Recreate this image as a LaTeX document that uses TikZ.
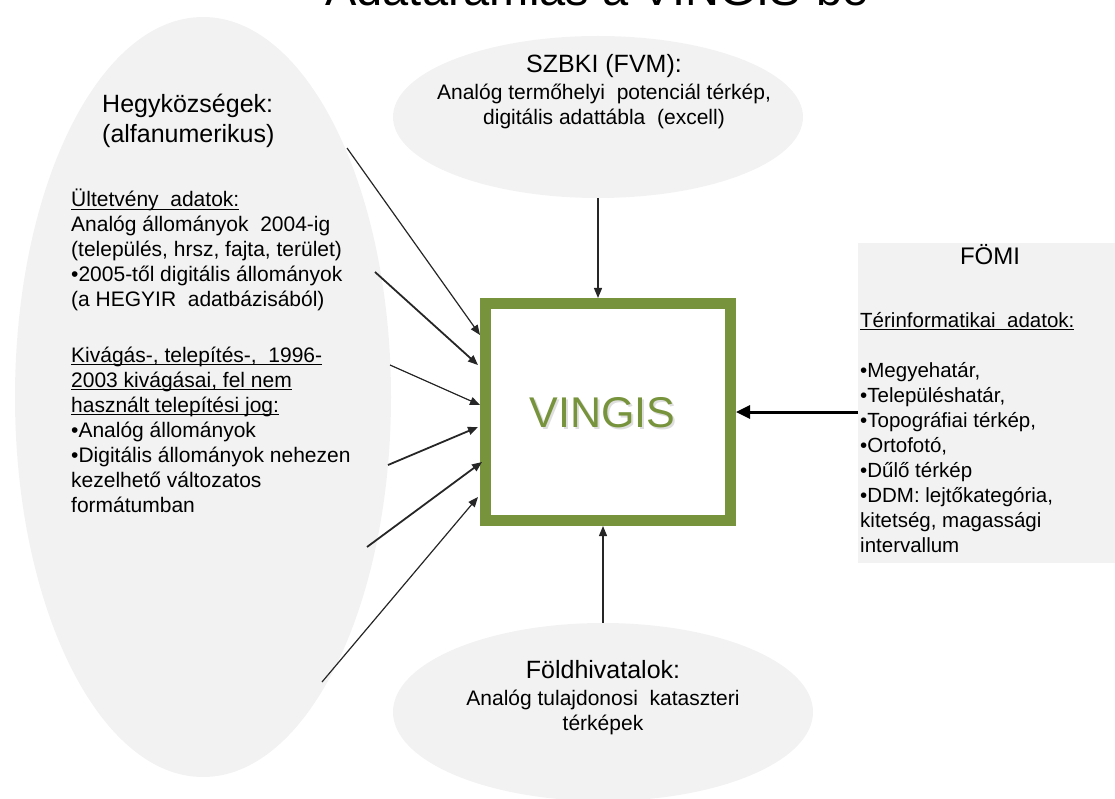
\documentclass[tikz,border=0pt]{standalone}
\usepackage{fontspec}
\setmainfont{Liberation Sans}
\usetikzlibrary{shapes.geometric,arrows.meta}
\definecolor{bgray}{HTML}{F2F2F2}
\definecolor{vgreen}{HTML}{77933C}
\newcommand\myul[1]{\setbox0\hbox{#1}\rlap{\rule[-3pt]{\wd0}{1.1pt}}\box0}
\newcommand\fsA{\fontsize{25}{30}\selectfont}
\newcommand\fsB{\fontsize{21}{25}\selectfont}
\newcommand\fsC{\fontsize{20.5}{25}\selectfont}
\begin{document}
\begin{tikzpicture}[x=1pt,y=-1pt,
  blob/.style={ellipse, fill=bgray, inner sep=0pt},
  txt/.style={inner sep=0pt, anchor=base west},
  ctxt/.style={inner sep=0pt, anchor=base},
  arr/.style={-{Triangle[length=10pt,width=8pt]}, line width=1.2pt, black!85},
  arrb/.style={arr, line width=1.8pt},
]
\useasboundingbox (0,0) rectangle (1115,799);
\clip (0,0) rectangle (1115,799);

% title (cut off at top)
\node[ctxt, font=\fontsize{47}{50}\selectfont] (title) at (597,6) {Adatáramlás a VINGIS-be};

% source shapes
\node[blob, minimum width=376pt, minimum height=760pt] (heg) at (203,397) {};
\node[blob, minimum width=410pt, minimum height=162pt] (szbki) at (598,117) {};
\node[blob, minimum width=420pt, minimum height=178pt] (foldh) at (603,712) {};
\node[fill=bgray, inner sep=0pt, minimum width=257pt, minimum height=320pt, anchor=north west] (fomi) at (858,243) {};

% VINGIS box
\node[draw=vgreen, line width=11pt, minimum width=245pt, minimum height=217pt, inner sep=0pt] (box) at (608,412) {};
\node[ctxt, text=vgreen, font=\fontsize{43}{50}\selectfont] (vt) at (602.5,427)
  {\makebox[0pt][l]{\hspace{1.8pt}\raisebox{-2.2pt}{\color{black!13}VINGIS}}VINGIS};

% left texts
\node[txt] (hegt) at (102,113) {\fsA\begin{tabular}[t]{@{}l@{}}Hegyközségek:\\(alfanumerikus)\end{tabular}};
\node[txt] (hegb1) at (71,207) {\fsB\begin{tabular}[t]{@{}l@{}}\myul{Ültetvény\ \ adatok:}\\
Analóg állományok\ \ 2004-ig\\
(település,\ hrsz,\ fajta,\ terület)\\
•2005-től digitális állományok\\
(a HEGYIR\ \ adatbázisából)\end{tabular}};
\node[txt] (hegb2) at (71,362) {\fsB\begin{tabular}[t]{@{}l@{}}\myul{Kivágás-, telepítés-,\ \ 1996-}\\
\myul{2003 kivágásai, fel nem}\\
\myul{használt\ telepítési jog:}\\
•Analóg állományok\\
•Digitális állományok\ nehezen\\
kezelhető\ változatos\\
formátumban\end{tabular}};

% top texts
\node[ctxt, font=\fsA] (szt) at (604,73) {SZBKI (FVM):};
\node[ctxt] (szb) at (604,100) {\fsB\begin{tabular}[t]{@{}c@{}}Analóg termőhelyi\ \ potenciál térkép,\\digitális adattábla\ \ (excell)\end{tabular}};

% bottom texts
\node[ctxt, font=\fsA] (fht) at (603,678) {Földhivatalok:};
\node[ctxt] (fhb) at (603,705) {\fsB\begin{tabular}[t]{@{}c@{}}Analóg tulajdonosi\ \ kataszteri\\térképek\end{tabular}};

% FOMI texts
\node[ctxt, font=\fontsize{24}{28}\selectfont] (fot) at (990,265) {FÖMI};
\node[txt] (fou) at (860,327) {\fsC\myul{Térinformatikai\ \ adatok:}};
\node[txt] (fol) at (860,377) {\fsC\begin{tabular}[t]{@{}l@{}}•Megyehatár,\\
•Településhatár,\\
•Topográfiai térkép,\\
•Ortofotó,\\
•Dűlő térkép\\
•DDM: lejtőkategória,\\
kitetség, magassági\\
intervallum\end{tabular}};

% arrows from Hegykozsegek
\coordinate (s1) at (347,148); \coordinate (e1) at (480,335);
\coordinate (s2) at (375,272); \coordinate (e2) at (478,365);
\coordinate (s3) at (390,365); \coordinate (e3) at (480,405);
\coordinate (s4) at (388,465); \coordinate (e4) at (478,427);
\coordinate (s5) at (367,547); \coordinate (e5) at (482,462);
\coordinate (s6) at (322,682); \coordinate (e6) at (478,497);
\draw[arr]  (s1) -- (e1);
\draw[arrb] (s2) -- (e2);
\draw[arr]  (s3) -- (e3);
\draw[arrb] (s4) -- (e4);
\draw[arrb] (s5) -- (e5);
\draw[arr]  (s6) -- (e6);

% top and bottom arrows
\draw[arr] (szbki.south) -- (szbki.south |- box.north);
\draw[arr] (foldh.north) -- (foldh.north |- box.south);

% right thick arrow
\draw[-{Triangle[length=14pt,width=13pt]}, line width=3pt] (fomi.west |- box.east) -- (box.east);
\end{tikzpicture}
\end{document}
